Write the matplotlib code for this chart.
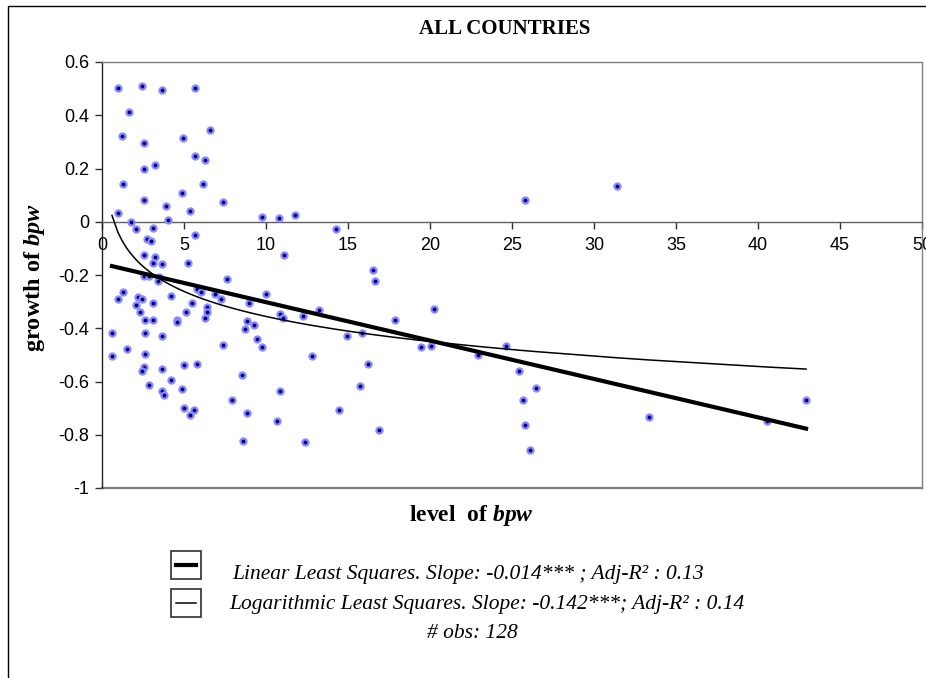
import numpy as np
import matplotlib
matplotlib.use("Agg")
from matplotlib import pyplot as plt
from matplotlib.patches import Rectangle
from matplotlib.lines import Line2D

plt.rcParams['font.family'] = ['Liberation Sans', 'DejaVu Sans']
plt.rcParams['axes.unicode_minus'] = False
plt.rcParams['mathtext.fontset'] = 'custom'
plt.rcParams['mathtext.rm'] = 'Liberation Serif'
plt.rcParams['mathtext.it'] = 'Liberation Serif:italic'
plt.rcParams['mathtext.bf'] = 'Liberation Serif:bold'
plt.rcParams['mathtext.bfit'] = 'Liberation Serif:italic:bold'

# level of bpw (x) and growth of bpw (y)
level_bpw = [
    0.95, 2.41, 3.66, 5.69, 1.62, 1.20, 2.54, 4.91, 6.60, 5.69, 6.26, 2.54, 3.21,
    1.28, 6.13, 4.90, 2.54, 3.88, 7.38, 5.34, 0.98, 4.00, 9.73, 10.77, 11.79, 1.74,
    2.07, 3.09, 14.27, 2.74, 3.01, 5.69,
    2.54, 3.21, 3.09, 3.66, 5.24, 11.12, 2.54, 2.84, 3.49, 3.41, 7.60, 1.28, 0.95,
    2.17, 2.41, 2.07, 3.09, 2.32, 2.64, 3.09, 4.23, 4.57, 4.60, 5.12, 5.46, 5.79,
    6.04, 6.38, 6.38, 6.26, 6.91, 7.27, 8.98, 9.98, 10.87, 11.01, 12.23, 13.25,
    8.86, 8.72, 9.29, 9.43, 9.73, 7.40, 14.91, 0.61, 0.61, 1.52, 2.64, 2.64, 3.66,
    2.54, 2.41, 3.66, 5.02, 5.79, 2.88, 4.23, 3.66, 3.78, 4.90, 8.51, 10.87, 12.80,
    5.02, 5.59, 5.34, 7.94, 8.86, 10.67, 14.47, 8.62, 12.35,
    25.77, 16.50, 16.65, 20.24, 17.88, 15.83, 19.45, 20.04, 22.94, 24.65, 16.20,
    15.73, 25.43, 26.46, 25.65, 25.77, 26.10, 16.86,
    31.42, 33.33, 40.55, 42.93,
]
growth_bpw = [
    0.503, 0.509, 0.496, 0.503, 0.413, 0.323, 0.295, 0.315, 0.344, 0.247, 0.233, 0.198, 0.212,
    0.142, 0.142, 0.109, 0.081, 0.060, 0.074, 0.040, 0.033, 0.006, 0.019, 0.013, 0.027, -0.002,
    -0.029, -0.022, -0.029, -0.063, -0.072, -0.049,
    -0.125, -0.132, -0.154, -0.160, -0.154, -0.125, -0.202, -0.202, -0.206, -0.222, -0.216, -0.264, -0.290,
    -0.284, -0.290, -0.313, -0.304, -0.338, -0.368, -0.368, -0.277, -0.368, -0.378, -0.339, -0.304, -0.251,
    -0.264, -0.319, -0.339, -0.360, -0.271, -0.290, -0.304, -0.271, -0.346, -0.360, -0.354, -0.333,
    -0.374, -0.401, -0.389, -0.442, -0.471, -0.463, -0.430, -0.416, -0.506, -0.477, -0.416, -0.498, -0.430,
    -0.545, -0.560, -0.554, -0.539, -0.533, -0.615, -0.595, -0.636, -0.650, -0.630, -0.574, -0.636, -0.506,
    -0.698, -0.706, -0.726, -0.671, -0.718, -0.747, -0.706, -0.823, -0.829,
    0.080, -0.181, -0.223, -0.326, -0.368, -0.416, -0.471, -0.465, -0.499, -0.465, -0.533,
    -0.616, -0.560, -0.624, -0.671, -0.762, -0.857, -0.782,
    0.136, -0.733, -0.747, -0.671,
]

x_ticks = [0, 5, 10, 15, 20, 25, 30, 35, 40, 45, 50]
y_ticks = [0.6, 0.4, 0.2, 0, -0.2, -0.4, -0.6, -0.8, -1]

title = "ALL COUNTRIES"
xlabel = r"level  of $\mathbfit{bpw}$"
ylabel = r"growth of $\mathbfit{bpw}$"
legend_lines = [
    "Linear Least Squares. Slope: -0.014*** ; Adj-R\u00b2 : 0.13",
    "Logarithmic Least Squares. Slope: -0.142***; Adj-R\u00b2 : 0.14",
]
obs_text = "# obs: 128"

x = np.array(level_bpw)
y = np.array(growth_bpw)

# least squares trend lines over the data range
lin = np.polyfit(x, y, 1)
logc = np.polyfit(np.log(x), y, 1)
xs = np.sort(np.unique(x))

W, H = 926, 678
fig = plt.figure(figsize=(W / 100, H / 100), dpi=100)
fig.patch.set_facecolor('white')

# chart area frame
fig.patches.append(Rectangle((8 / W, -0.1), 1.2, 1 - 6 / H + 0.1, transform=fig.transFigure,
                             fill=False, edgecolor='black', linewidth=1.0))

ax = fig.add_axes([102 / W, 1 - 488 / H, 820 / W, 426 / H])
ax.set_xlim(0, 50)
ax.set_ylim(-1, 0.6)

ax.plot(x, y, linestyle='none', marker='o', markersize=4.4, markerfacecolor='#000080',
        markeredgecolor='#8a8aff', markeredgewidth=1.6, zorder=3)
ax.plot(xs, np.polyval(lin, xs), color='black', linewidth=3.0, zorder=4)
ax.plot(xs, np.polyval(logc, np.log(xs)), color='black', linewidth=1.1, zorder=4)

ax.spines['bottom'].set_position(('data', 0))
ax.spines['bottom'].set_color('#606060')
ax.spines['left'].set_color('#202020')
ax.spines['top'].set_color('#808080')
ax.spines['right'].set_color('#808080')
for s in ax.spines.values():
    s.set_linewidth(1.0)
ax.axhline(-1, color='#808080', linewidth=1.6, clip_on=False)

ax.set_xticks(x_ticks)
ax.set_xticklabels([f"{t:g}" for t in x_ticks])
ax.set_yticks(y_ticks)
ax.set_yticklabels([f"{t:g}" for t in y_ticks])
ax.tick_params(axis='both', direction='out', length=5, width=1, labelsize=13, color='#303030')
ax.tick_params(axis='x', pad=6)
ax.tick_params(axis='y', pad=4)

fig.text(505 / W, 1 - 29 / H, title, ha='center', va='center', family='Liberation Serif',
         fontweight='bold', fontsize=15)
fig.text(471 / W, 1 - 516 / H, xlabel, ha='center', va='center', family='Liberation Serif',
         fontweight='bold', fontsize=17)
fig.text(35 / W, 1 - 278 / H, ylabel, ha='center', va='center', rotation=90,
         family='Liberation Serif', fontweight='bold', fontsize=17.5)

# legend keys
key_y = [565, 603]
key_lw = [3.0, 1.1]
for ky, lw in zip(key_y, key_lw):
    fig.patches.append(Rectangle((171 / W, 1 - (ky + 14) / H), 30 / W, 28 / H,
                                 transform=fig.transFigure, fill=False,
                                 edgecolor='#303030', linewidth=1.2))
    fig.lines.append(Line2D([176 / W, 196 / W], [1 - ky / H, 1 - ky / H],
                            transform=fig.transFigure, color='black', linewidth=lw))

text_x = [232, 229]
text_y = [575, 605]
for tx, ty, label in zip(text_x, text_y, legend_lines):
    fig.text(tx / W, 1 - ty / H, label, ha='left', va='center', family='Liberation Serif',
             style='italic', fontsize=15.5)
fig.text(472 / W, 1 - 634 / H, obs_text, ha='center', va='center', family='Liberation Serif',
         style='italic', fontsize=15.5)

fig.savefig('out.png', dpi=100)
